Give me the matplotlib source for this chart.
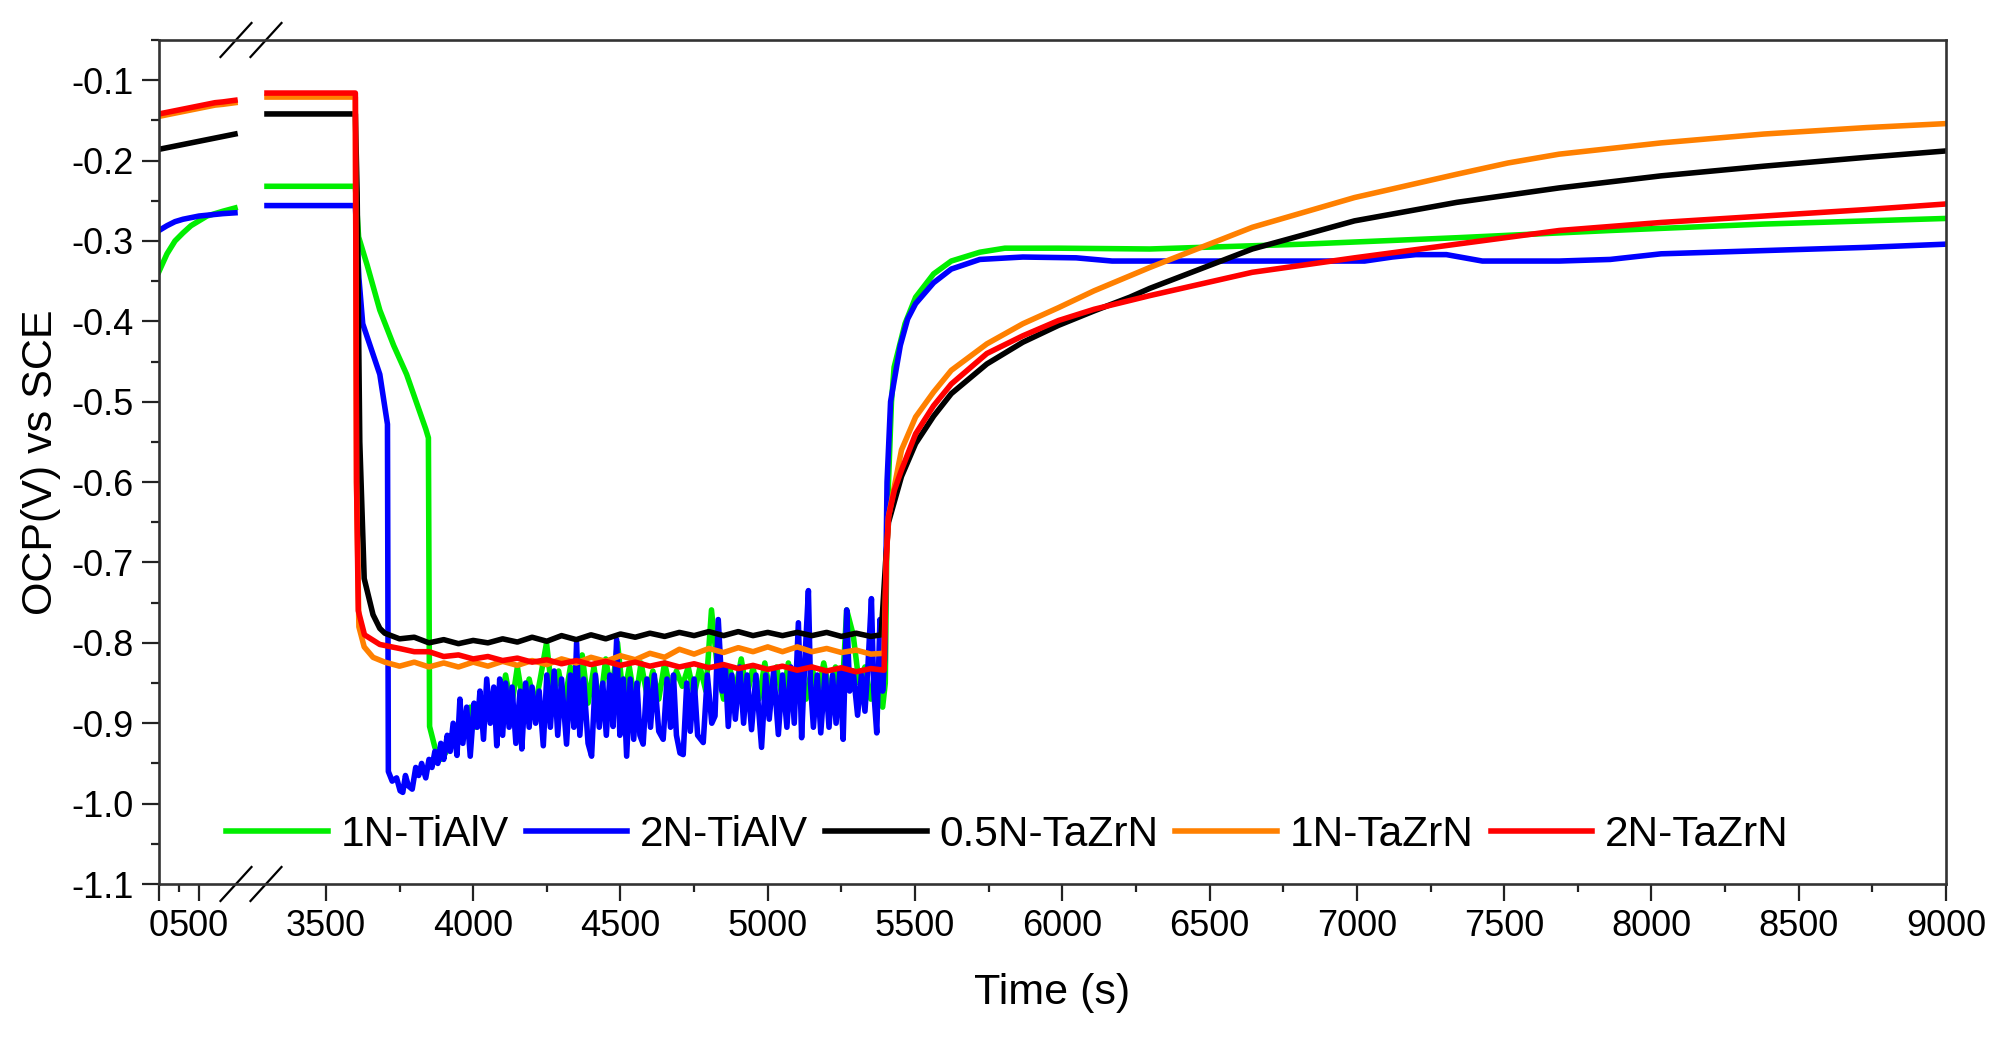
import numpy as np
import matplotlib
matplotlib.use("Agg")
import matplotlib.pyplot as plt
from matplotlib.ticker import FixedLocator, FixedFormatter, MultipleLocator, FormatStrFormatter

plt.rcParams['font.family'] = ['Liberation Sans', 'DejaVu Sans']
plt.rcParams['axes.unicode_minus'] = False

# ---------------- data ----------------
labels = ["1N-TiAlV", "2N-TiAlV", "0.5N-TaZrN", "1N-TaZrN", "2N-TaZrN"]
colors = ["#00EE00", "#0000FF", "#000000", "#FF8000", "#FF0000"]

# segment before the axis break (0 - 950 s)
t_left = [0, 50, 100, 200, 300, 400, 500, 600, 700, 800, 950]
green_left = [-0.338, -0.327, -0.316, -0.300, -0.290, -0.281, -0.275, -0.269, -0.266, -0.263, -0.259]
blue_left = [-0.287, -0.284, -0.281, -0.276, -0.273, -0.271, -0.269, -0.268, -0.267, -0.266, -0.265]
black_left = [-0.186, -0.185, -0.184, -0.182, -0.180, -0.178, -0.176, -0.174, -0.172, -0.170, -0.167]
orange_left = [-0.145, -0.144, -0.143, -0.141, -0.139, -0.137, -0.135, -0.133, -0.131, -0.130, -0.128]
red_left = [-0.142, -0.141, -0.140, -0.138, -0.136, -0.134, -0.132, -0.130, -0.128, -0.127, -0.125]

# segment after the axis break (3300 - 9000 s)
green_t = [3300, 3600, 3605, 3611, 3640, 3683, 3730, 3774, 3839, 3848, 3852, 3870, 3890, 3910,
           3930, 3950, 3970, 3990, 4010, 4030, 4050, 4070, 4090, 4110, 4130, 4150, 4170, 4190,
           4210, 4230, 4249, 4270, 4290, 4310, 4330, 4350, 4370, 4390, 4410, 4430, 4450, 4470,
           4490, 4510, 4530, 4550, 4570, 4590, 4610, 4630, 4650, 4670, 4690, 4710, 4730, 4750,
           4770, 4790, 4809, 4830, 4850, 4870, 4890, 4910, 4930, 4950, 4970, 4990, 5010, 5030,
           5050, 5070, 5090, 5110, 5130, 5150, 5170, 5190, 5210, 5230, 5250, 5268, 5290, 5310,
           5330, 5350, 5370, 5390, 5399, 5405, 5420, 5429, 5466, 5502, 5563, 5623, 5720, 5805,
           5987, 6297, 6818, 7339, 7860, 8381, 9000]
green_v = [-0.232, -0.232, -0.260, -0.295, -0.330, -0.386, -0.430, -0.466, -0.534, -0.545, -0.904,
           -0.930, -0.945, -0.935, -0.925, -0.915, -0.910, -0.880, -0.905, -0.870, -0.895, -0.860,
           -0.890, -0.840, -0.880, -0.830, -0.875, -0.845, -0.880, -0.840, -0.800, -0.870, -0.835,
           -0.875, -0.830, -0.870, -0.815, -0.875, -0.830, -0.880, -0.820, -0.865, -0.800, -0.870,
           -0.830, -0.875, -0.825, -0.865, -0.835, -0.870, -0.825, -0.860, -0.835, -0.854, -0.830,
           -0.865, -0.830, -0.860, -0.759, -0.835, -0.870, -0.830, -0.860, -0.820, -0.865, -0.830,
           -0.870, -0.825, -0.865, -0.830, -0.870, -0.825, -0.860, -0.830, -0.870, -0.830, -0.865,
           -0.825, -0.860, -0.830, -0.879, -0.759, -0.790, -0.850, -0.830, -0.870, -0.840, -0.880,
           -0.850, -0.650, -0.500, -0.457, -0.403, -0.370, -0.341, -0.325, -0.314, -0.309, -0.309,
           -0.310, -0.304, -0.296, -0.287, -0.279, -0.272]

blue_t = [3300, 3600, 3606, 3612, 3625, 3683, 3709,
          3712, 3725, 3740, 3752, 3761, 3770, 3780, 3793, 3805, 3815, 3825, 3839, 3850, 3860,
          3870, 3880, 3890, 3900, 3912, 3922, 3932, 3945, 3955, 3965, 3978, 3990,
          4003, 4014, 4023, 4035, 4046, 4058, 4070, 4080, 4090, 4100, 4110, 4122, 4132, 4145,
          4159, 4165, 4178, 4190, 4200, 4212, 4224, 4238, 4250, 4262, 4275, 4287, 4300, 4317,
          4330, 4342, 4351, 4362, 4375, 4390, 4402, 4415, 4428, 4440, 4452, 4464, 4475, 4487,
          4498, 4510, 4521, 4533, 4545, 4556, 4566, 4577, 4590, 4602, 4615, 4630, 4645, 4658,
          4670, 4680, 4690, 4702, 4713, 4725, 4737, 4750, 4762, 4781, 4795, 4810, 4821, 4832,
          4845, 4856, 4866, 4878, 4890, 4905, 4918, 4930, 4945, 4960, 4979, 4993, 5005, 5020,
          5036, 5050, 5065, 5078, 5090, 5104, 5115, 5125, 5138, 5145, 5155, 5168, 5180, 5195,
          5208, 5220, 5232, 5245, 5256, 5268, 5278, 5290, 5305, 5318, 5330, 5340, 5352, 5360,
          5370, 5381, 5390, 5397,
          5405, 5417, 5450, 5475, 5502, 5563, 5623, 5720, 5866, 6047, 6169, 6297, 7026, 7120,
          7200, 7304, 7426, 7687, 7860, 8033, 8381, 8728, 9000]
blue_v = [-0.256, -0.256, -0.300, -0.346, -0.403, -0.466, -0.528,
          -0.960, -0.972, -0.968, -0.984, -0.986, -0.965, -0.978, -0.982, -0.955, -0.965, -0.950,
          -0.968, -0.945, -0.955, -0.935, -0.950, -0.925, -0.945, -0.915, -0.935, -0.900, -0.940,
          -0.870, -0.925, -0.880, -0.941,
          -0.875, -0.905, -0.860, -0.920, -0.845, -0.900, -0.855, -0.928, -0.845, -0.915, -0.850,
          -0.905, -0.855, -0.925, -0.860, -0.932, -0.850, -0.905, -0.855, -0.900, -0.860, -0.928,
          -0.840, -0.905, -0.835, -0.915, -0.845, -0.926, -0.840, -0.905, -0.800, -0.915, -0.845,
          -0.925, -0.941, -0.840, -0.905, -0.850, -0.915, -0.840, -0.904, -0.796, -0.915, -0.845,
          -0.941, -0.845, -0.920, -0.850, -0.915, -0.926, -0.845, -0.905, -0.840, -0.910, -0.920,
          -0.845, -0.905, -0.840, -0.915, -0.937, -0.939, -0.850, -0.910, -0.845, -0.915, -0.924,
          -0.840, -0.900, -0.891, -0.771, -0.860, -0.830, -0.904, -0.840, -0.895, -0.830, -0.900,
          -0.840, -0.908, -0.840, -0.930, -0.840, -0.895, -0.835, -0.914, -0.840, -0.905, -0.830,
          -0.900, -0.775, -0.918, -0.830, -0.735, -0.850, -0.905, -0.840, -0.912, -0.835, -0.905,
          -0.840, -0.900, -0.835, -0.920, -0.759, -0.860, -0.835, -0.890, -0.840, -0.885, -0.830,
          -0.745, -0.860, -0.912, -0.771, -0.860, -0.820,
          -0.600, -0.500, -0.430, -0.397, -0.378, -0.352, -0.335, -0.323, -0.320, -0.321, -0.325,
          -0.325, -0.325, -0.320, -0.317, -0.317, -0.325, -0.325, -0.323, -0.316, -0.312, -0.308,
          -0.304]

black_t = [3300, 3600, 3606, 3615, 3630, 3660, 3683, 3700, 3750, 3800, 3850, 3900, 3950, 4000,
           4050, 4100, 4150, 4200, 4250, 4300, 4350, 4400, 4450, 4500, 4550, 4600, 4650, 4700,
           4750, 4800, 4850, 4900, 4950, 5000, 5050, 5100, 5150, 5200, 5250, 5300, 5350, 5385,
           5400, 5410, 5454, 5502, 5563, 5623, 5744, 5866, 5987, 6108, 6229, 6297, 6645, 6992,
           7339, 7687, 8033, 8381, 8728, 9000]
black_v = [-0.142, -0.142, -0.240, -0.550, -0.720, -0.765, -0.782, -0.788, -0.795, -0.793, -0.800,
           -0.796, -0.801, -0.797, -0.800, -0.795, -0.799, -0.793, -0.798, -0.791, -0.796, -0.790,
           -0.795, -0.789, -0.793, -0.788, -0.792, -0.787, -0.791, -0.786, -0.791, -0.786, -0.791,
           -0.787, -0.791, -0.787, -0.791, -0.787, -0.792, -0.788, -0.792, -0.790,
           -0.700, -0.650, -0.593, -0.552, -0.518, -0.490, -0.453, -0.426, -0.405, -0.387, -0.370,
           -0.359, -0.310, -0.275, -0.252, -0.234, -0.219, -0.207, -0.196, -0.188]

orange_t = [3300, 3600, 3604, 3612, 3630, 3660, 3700, 3750, 3800, 3850, 3900, 3950, 4000, 4050,
            4100, 4150, 4200, 4250, 4300, 4350, 4400, 4450, 4500, 4550, 4600, 4650, 4700, 4750,
            4800, 4850, 4900, 4950, 5000, 5050, 5100, 5150, 5200, 5250, 5300, 5350, 5395,
            5402, 5410, 5454, 5502, 5563, 5623, 5744, 5866, 5987, 6108, 6297, 6645, 6992, 7339,
            7513, 7687, 8033, 8381, 8728, 9000]
orange_v = [-0.121, -0.121, -0.600, -0.780, -0.805, -0.818, -0.824, -0.829, -0.824, -0.830,
            -0.825, -0.830, -0.824, -0.829, -0.823, -0.828, -0.822, -0.827, -0.820, -0.825,
            -0.818, -0.823, -0.816, -0.821, -0.813, -0.818, -0.808, -0.814, -0.807, -0.812,
            -0.806, -0.811, -0.805, -0.811, -0.805, -0.811, -0.807, -0.812, -0.809, -0.814,
            -0.813,
            -0.700, -0.643, -0.560, -0.519, -0.488, -0.461, -0.428, -0.403, -0.383, -0.362,
            -0.333, -0.283, -0.246, -0.217, -0.203, -0.192, -0.178, -0.167, -0.159, -0.154]

red_t = [3300, 3600, 3604, 3610, 3631, 3683, 3750, 3800, 3850, 3900, 3950, 4000, 4050, 4100,
         4150, 4200, 4250, 4300, 4350, 4400, 4450, 4500, 4550, 4600, 4650, 4700, 4750, 4800,
         4850, 4900, 4950, 5000, 5050, 5100, 5150, 5200, 5250, 5300, 5350, 5395,
         5402, 5410, 5430, 5454, 5502, 5563, 5623, 5744, 5866, 5987, 6108, 6297, 6645, 6992,
         7339, 7687, 8033, 8381, 8728, 9000]
red_v = [-0.116, -0.116, -0.600, -0.760, -0.790, -0.802, -0.807, -0.811, -0.811, -0.817, -0.815,
         -0.820, -0.817, -0.822, -0.819, -0.824, -0.821, -0.826, -0.822, -0.827, -0.823, -0.828,
         -0.824, -0.829, -0.825, -0.830, -0.826, -0.831, -0.827, -0.832, -0.828, -0.833, -0.829,
         -0.834, -0.830, -0.835, -0.831, -0.836, -0.832, -0.834,
         -0.700, -0.643, -0.610, -0.585, -0.540, -0.505, -0.478, -0.440, -0.418, -0.399, -0.385,
         -0.368, -0.339, -0.321, -0.304, -0.287, -0.277, -0.269, -0.261, -0.254]

x_major = [0, 500, 3500, 4000, 4500, 5000, 5500, 6000, 6500, 7000, 7500, 8000, 8500, 9000]
x_minor = [250, 3750, 4250, 4750, 5250, 5750, 6250, 6750, 7250, 7750, 8250, 8750]
x_ticklabels = [str(v) for v in x_major]

BREAK_LO, BREAK_HI = 950, 3300

# ---------------- broken x scale ----------------
S_LEFT = 0.08
GAP_W = 32.0
S_RIGHT = 0.2946
P1 = BREAK_LO * S_LEFT
P2 = P1 + GAP_W

def fwd(t):
    t = np.asarray(t, dtype=float)
    return np.where(t <= BREAK_LO, t * S_LEFT,
                    np.where(t <= BREAK_HI, P1 + (t - BREAK_LO) * GAP_W / (BREAK_HI - BREAK_LO),
                             P2 + (t - BREAK_HI) * S_RIGHT))

def inv(p):
    p = np.asarray(p, dtype=float)
    return np.where(p <= P1, p / S_LEFT,
                    np.where(p <= P2, BREAK_LO + (p - P1) * (BREAK_HI - BREAK_LO) / GAP_W,
                             BREAK_HI + (p - P2) / S_RIGHT))

# ---------------- figure ----------------
fig = plt.figure(figsize=(20.08, 10.5), dpi=100)
ax = fig.add_axes([159/2008, 166/1050, 1787/2008, 844/1050])
ax.set_xscale('function', functions=(fwd, inv))

series = [
    (green_left, green_t, green_v),
    (blue_left, blue_t, blue_v),
    (black_left, black_t, black_v),
    (orange_left, orange_t, orange_v),
    (red_left, red_t, red_v),
]
for (lv, rt, rv), lab, col in zip(series, labels, colors):
    tt = list(t_left) + [2000] + list(rt)
    vv = list(lv) + [np.nan] + list(rv)
    ax.plot(tt, vv, color=col, lw=4.0, label=lab, solid_joinstyle='round')

ax.set_xlim(0, 9000)
ax.set_ylim(-1.1, -0.05)

ax.xaxis.set_major_locator(FixedLocator(x_major))
ax.xaxis.set_major_formatter(FixedFormatter(x_ticklabels))
ax.xaxis.set_minor_locator(FixedLocator(x_minor))
ax.yaxis.set_major_locator(MultipleLocator(0.1))
ax.yaxis.set_minor_locator(MultipleLocator(0.05))
ax.yaxis.set_major_formatter(FormatStrFormatter('%.1f'))

ax.tick_params(axis='both', which='major', direction='out', length=12, width=1.6,
               labelsize=26, color='#222222', pad=6)
ax.tick_params(axis='both', which='minor', direction='out', length=6, width=1.6, color='#222222')
ax.tick_params(top=False, right=False)
for s in ax.spines.values():
    s.set_linewidth(1.9)
    s.set_color('#333333')

ax.set_xlabel('Time (s)', fontsize=31, labelpad=21)
ax.set_ylabel('OCP(V) vs SCE', fontsize=31, labelpad=8)

# break marks
xmax_p = float(fwd(9000))
dx = 15.5 / 1787
dy = 17.0 / 844
for tb, off in [(BREAK_LO, 1.0), (BREAK_HI, -1.0)]:
    xa = (float(fwd(tb)) + off) / xmax_p
    for ya in (0.0, 1.0):
        ax.plot([xa - dx, xa + dx], [ya - dy, ya + dy], transform=ax.transAxes,
                color='black', lw=1.6, clip_on=False)

leg = ax.legend(loc='center left', bbox_to_anchor=(226/2008, 1 - 835/1050),
                bbox_transform=fig.transFigure, ncol=5, frameon=False, fontsize=30.5,
                handlelength=2.4, handletextpad=0.3, columnspacing=0.4,
                borderpad=0, borderaxespad=0)

fig.savefig('out.png', dpi=100, facecolor='white')
